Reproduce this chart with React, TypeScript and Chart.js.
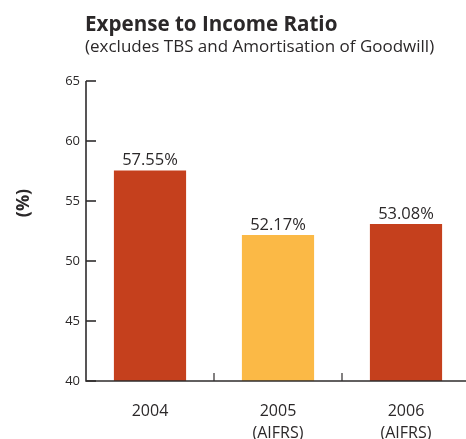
import React, { useEffect, useRef } from "react";
import { Chart, registerables } from "chart.js";

Chart.register(...registerables);

const categories: (string | string[])[] = ["2004", ["2005", "(AIFRS)"], ["2006", "(AIFRS)"]];
const values: number[] = [57.55, 52.17, 53.08];
const valueLabels: string[] = ["57.55%", "52.17%", "53.08%"];
const barColors: string[] = ["#C5401D", "#FBB946", "#C5401D"];
const yMin = 40;
const yMax = 65;
const yStep = 5;
const titleText = "Expense to Income Ratio";
const subtitleText = "(excludes TBS and Amortisation of Goodwill)";
const yAxisTitle = "(%)";

const FONT = "'Open Sans', 'Noto Sans', sans-serif";
const TEXT = "#2b2829";
const AXIS = "#2f2c2d";

const decorPlugin = {
  id: "decor",
  afterDraw(chart: any) {
    const ctx = chart.ctx as CanvasRenderingContext2D;
    const x = chart.scales.x;
    const y = chart.scales.y;
    const area = chart.chartArea;
    ctx.save();
    // axis lines
    ctx.strokeStyle = AXIS;
    ctx.lineWidth = 1.6;
    ctx.beginPath();
    ctx.moveTo(area.left, area.top);
    ctx.lineTo(area.left, area.bottom);
    ctx.lineTo(chart.width, area.bottom);
    ctx.stroke();
    // y ticks (inward)
    for (let v = yMin; v <= yMax; v += yStep) {
      const py = y.getPixelForValue(v);
      ctx.beginPath();
      ctx.moveTo(area.left, py);
      ctx.lineTo(area.left + 10, py);
      ctx.stroke();
    }
    // x category boundary ticks (upward)
    ctx.lineWidth = 1.2;
    for (let i = 1; i < categories.length; i++) {
      const px = (x.getPixelForValue(i - 1) + x.getPixelForValue(i)) / 2;
      ctx.beginPath();
      ctx.moveTo(px, area.bottom);
      ctx.lineTo(px, area.bottom - 8);
      ctx.stroke();
    }
    // value labels
    const meta = chart.getDatasetMeta(0);
    ctx.fillStyle = TEXT;
    ctx.font = `16.5px ${FONT}`;
    ctx.textAlign = "center";
    ctx.textBaseline = "alphabetic";
    meta.data.forEach((bar: any, i: number) => {
      ctx.fillText(valueLabels[i], bar.x, bar.y - 5);
    });
    // titles
    ctx.textAlign = "left";
    ctx.font = `bold 20.6px ${FONT}`;
    ctx.fillText(titleText, 85, 31);
    ctx.font = `17px ${FONT}`;
    ctx.fillText(subtitleText, 85, 52);
    // y axis title
    ctx.translate(29, 203);
    ctx.rotate(-Math.PI / 2);
    ctx.textAlign = "center";
    ctx.font = `bold 18px ${FONT}`;
    ctx.fillText(yAxisTitle, 0, 0);
    ctx.restore();
  },
};

export default function App() {
  const ref = useRef<HTMLCanvasElement | null>(null);
  useEffect(() => {
    if (!ref.current) return;
    const chart = new Chart(ref.current, {
      type: "bar",
      data: {
        labels: categories as any,
        datasets: [
          {
            data: values,
            backgroundColor: barColors,
            borderWidth: 0,
            barPercentage: 0.564,
            categoryPercentage: 1,
          },
        ],
      },
      options: {
        animation: false,
        responsive: false,
        devicePixelRatio: 1,
        layout: { padding: { top: 81, left: 0, right: 0, bottom: 0 } },
        plugins: { legend: { display: false }, tooltip: { enabled: false } },
        scales: {
          x: {
            grid: { display: false, drawTicks: false },
            border: { display: false },
            ticks: {
              color: TEXT,
              font: { family: FONT, size: 16, lineHeight: 1.4 },
              padding: 19,
              maxRotation: 0,
            },
            afterFit: (s: any) => {
              s.height = 58;
            },
          },
          y: {
            min: yMin,
            max: yMax,
            grid: { display: false, drawTicks: false },
            border: { display: false },
            ticks: {
              stepSize: yStep,
              color: TEXT,
              font: { family: FONT, size: 13 },
              padding: 6,
            },
            afterFit: (s: any) => {
              s.width = 86;
            },
          },
        },
      },
      plugins: [decorPlugin],
    });
    return () => chart.destroy();
  }, []);
  return (
    <div style={{ position: "fixed", left: 0, top: 0, width: 466, height: 439, overflow: "hidden", background: "#fff" }}>
      <canvas ref={ref} width={470} height={439} style={{ width: 470, height: 439, display: "block" }} />
    </div>
  );
}
